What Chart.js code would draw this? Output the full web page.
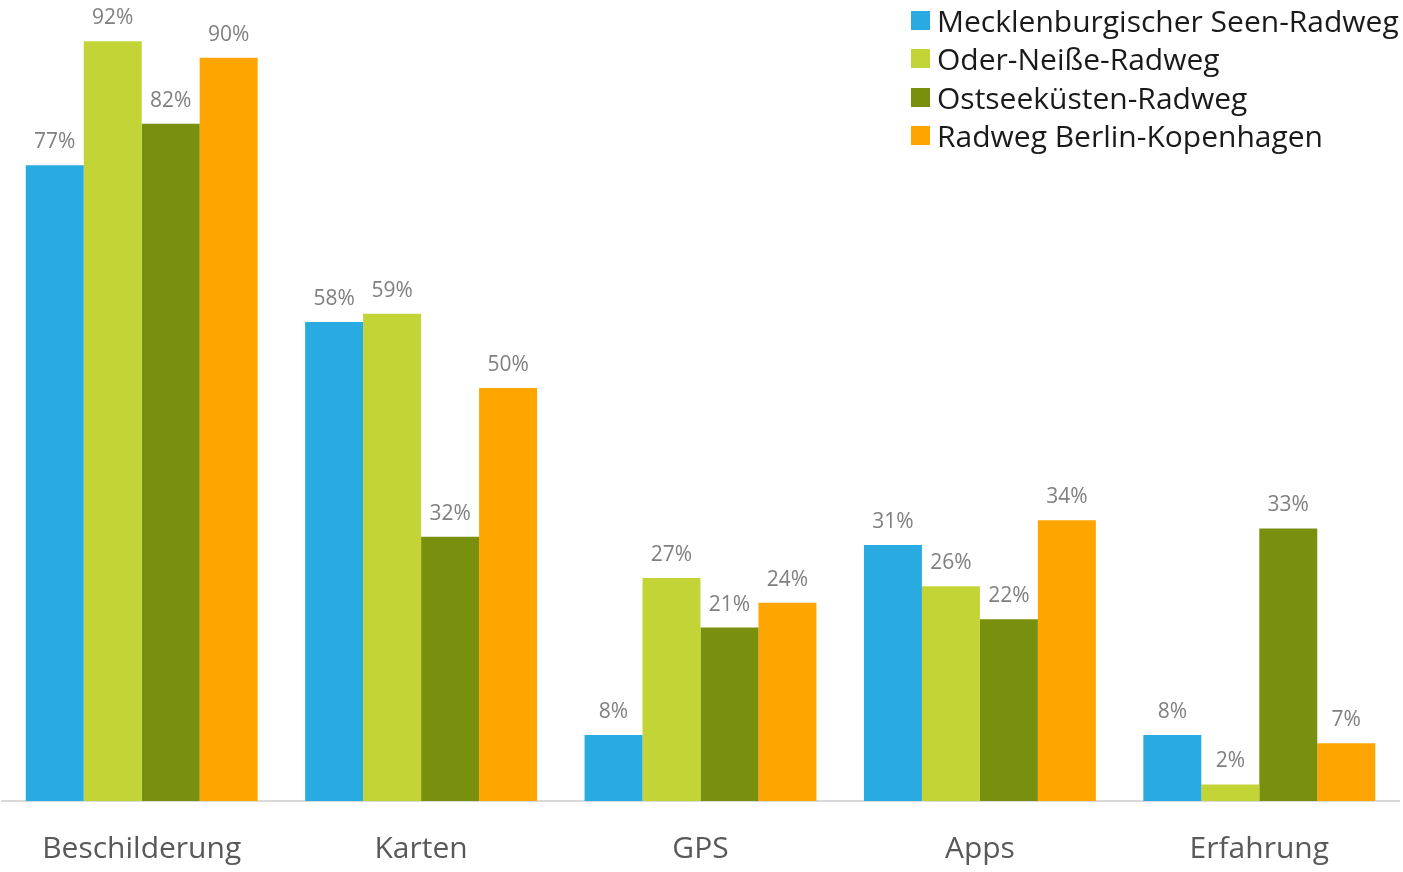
<!DOCTYPE html>
<html lang="de">
<head>
<meta charset="utf-8">
<title>Orientierung auf Radfernwegen</title>
<script src="https://cdn.jsdelivr.net/npm/chart.js@4.4.1/dist/chart.umd.min.js"></script>
<style>
    html, body { margin: 0; padding: 0; background: #fff; }
    #wrap { position: relative; width: 1403px; height: 872px; }
    #legende {
        position: absolute; left: 911px; top: 1px;
        font-family: "Open Sans", sans-serif; font-size: 30px; color: #1a1a1a;
    }
    #legende div { display: flex; align-items: center; height: 38.5px; white-space: nowrap; }
    #legende span.box { width: 19px; height: 19px; margin-right: 7px; flex: none; }
</style>
</head>
<body>
<div id="wrap">
    <canvas id="chart-orientierung" width="1403" height="872"></canvas>
    <div id="legende"></div>
</div>
<script>
// Kategorien und Werte (Anteil in %)
const kategorien = ['Beschilderung', 'Karten', 'GPS', 'Apps', 'Erfahrung'];
const radwege = [
    'Mecklenburgischer Seen-Radweg',
    'Oder-Neiße-Radweg',
    'Ostseeküsten-Radweg',
    'Radweg Berlin-Kopenhagen'
];
const mecklenburg = [77, 58, 8, 31, 8];
const oderNeisse = [92, 59, 27, 26, 2];
const ostsee = [82, 32, 21, 22, 33];
const berlinKopenhagen = [90, 50, 24, 34, 7];
const farben = ['#29abe2', '#c3d436', '#78900e', '#ffa500'];

const werte = [mecklenburg, oderNeisse, ostsee, berlinKopenhagen];

// Prozentwerte über den Balken
const wertLabels = {
    id: 'wertLabels',
    afterDatasetsDraw(chart) {
        const ctx = chart.ctx;
        ctx.save();
        ctx.font = '21px "Open Sans", sans-serif';
        ctx.fillStyle = '#808080';
        ctx.textAlign = 'center';
        ctx.textBaseline = 'middle';
        chart.data.datasets.forEach(function(ds, i) {
            chart.getDatasetMeta(i).data.forEach(function(bar, j) {
                ctx.fillText(ds.data[j] + '%', bar.x, bar.y - 23);
            });
        });
        ctx.restore();
    }
};

new Chart(document.getElementById('chart-orientierung'), {
    type: 'bar',
    data: {
        labels: kategorien,
        datasets: radwege.map(function(name, i) {
            return {
                label: name,
                data: werte[i],
                backgroundColor: farben[i],
                borderWidth: 0,
                barPercentage: 1,
                categoryPercentage: 0.83
            };
        })
    },
    options: {
        responsive: false,
        animation: false,
        layout: { padding: { left: 2, right: 4, top: 0, bottom: 0 } },
        plugins: {
            legend: { display: false },
            tooltip: { enabled: false }
        },
        scales: {
            x: {
                grid: { display: false, drawTicks: false },
                border: { display: true, color: '#d9d9d9', width: 2 },
                ticks: {
                    color: '#595959',
                    padding: 30,
                    font: { family: '"Open Sans", sans-serif', size: 30 }
                },
                afterFit(scale) {
                    scale.height = 71;
                }
            },
            y: {
                display: false,
                min: 0,
                max: 97
            }
        }
    },
    plugins: [wertLabels]
});

// Legende oben rechts
const legende = document.getElementById('legende');
radwege.forEach(function(name, i) {
    const zeile = document.createElement('div');
    const box = document.createElement('span');
    box.className = 'box';
    box.style.background = farben[i];
    zeile.appendChild(box);
    zeile.appendChild(document.createTextNode(name));
    legende.appendChild(zeile);
});
</script>
</body>
</html>
